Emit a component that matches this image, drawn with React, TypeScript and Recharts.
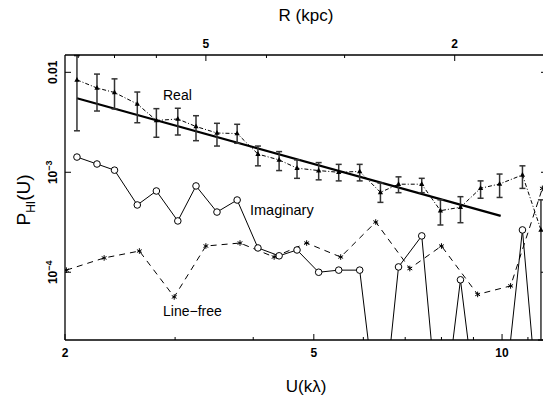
import React from "react";
import { LineChart, Line, XAxis, YAxis, ErrorBar } from "recharts";

// U (kλ) sampling of the real / imaginary parts
const realU = [2.09, 2.25, 2.4, 2.61, 2.8, 3.03, 3.24, 3.5, 3.77, 4.07, 4.4, 4.7, 5.09, 5.48, 5.92, 6.39, 6.83, 7.44, 7.97, 8.58, 9.24, 9.91, 10.78, 11.54];
const realP = [8.4e-3, 6.97e-3, 6.28e-3, 4.82e-3, 3.3e-3, 3.41e-3, 2.87e-3, 2.47e-3, 2.44e-3, 1.52e-3, 1.33e-3, 1.1e-3, 1.04e-3, 1.0e-3, 1.02e-3, 6.3e-4, 7.6e-4, 7.6e-4, 4.13e-4, 4.47e-4, 6.92e-4, 7.64e-4, 9.4e-4, 2.65e-4];
const realHi = [1.47e-2, 9.6e-3, 8.6e-3, 6.35e-3, 4.33e-3, 4.37e-3, 3.68e-3, 3.09e-3, 3.02e-3, 1.83e-3, 1.61e-3, 1.33e-3, 1.25e-3, 1.2e-3, 1.2e-3, 7.8e-4, 9.0e-4, 8.7e-4, 5.3e-4, 5.7e-4, 8.2e-4, 9.6e-4, 1.16e-3, 5.3e-4];
const realLo = [2.6e-3, 4.1e-3, 4.3e-3, 3.13e-3, 2.24e-3, 2.36e-3, 2.07e-3, 1.83e-3, 1.95e-3, 1.16e-3, 1.04e-3, 8.7e-4, 8.4e-4, 8.2e-4, 8.2e-4, 5.0e-4, 6.25e-4, 6.25e-4, 2.97e-4, 3.13e-4, 5.5e-4, 5.6e-4, 6.9e-4, 2.1e-5];

// imaginary part, 2e-6 = point dropped below the axis
const imagP = [1.42e-3, 1.21e-3, 1.05e-3, 4.71e-4, 6.5e-4, 3.26e-4, 7.3e-4, 4.0e-4, 5.28e-4, 1.75e-4, 1.46e-4, 1.67e-4, 1.0e-4, 1.05e-4, 1.05e-4, 2e-6, 1.13e-4, 2.31e-4, 2e-6, 8.4e-5, 2e-6, 2e-6, 2.65e-4, 2e-6];

// line-free channels
const freeU = [2.01, 2.31, 2.63, 2.99, 3.36, 3.81, 4.32, 4.87, 5.52, 6.28, 7.12, 8.0, 9.14, 10.32, 11.6];
const freeP = [1.05e-4, 1.39e-4, 1.63e-4, 5.66e-5, 1.83e-4, 1.96e-4, 1.42e-4, 1.96e-4, 1.42e-4, 3.18e-4, 1.09e-4, 1.83e-4, 6.0e-5, 7.3e-5, 6.9e-4];

// power-law fit
const fitU = [2.09, 9.95];
const fitP = [5.5e-3, 3.66e-4];

const uTicks = [2, 3, 4, 5, 6, 7, 8, 9, 10, 11];
const uLabeled = [2, 5, 10];
const pTicks = [1e-2, 1e-3, 1e-4];
const rTicks = [8, 7, 6, 5, 4, 3, 2];
const rLabeled = [5, 2];
const R_PER_U = 16.8; // R(kpc) = 16.8 / U

const U_DOMAIN = [2, 11.8];
const P_DOMAIN = [2.1e-5, 0.0149];

const realData = realU.map((u, i) => ({
  u,
  p: realP[i],
  err: [realP[i] - realLo[i], realHi[i] - realP[i]],
}));
const imagData = realU.map((u, i) => ({ u, p: imagP[i] }));
const freeData = freeU.map((u, i) => ({ u, p: freeP[i] }));
const fitData = fitU.map((u, i) => ({ u, p: fitP[i] }));

const FONT = "'Liberation Sans', Arial, sans-serif";

const inRange = (p: any) => p && p.payload && p.payload.p >= P_DOMAIN[0] && p.payload.p <= P_DOMAIN[1];

const TriDot = (props: any) => {
  const { cx, cy, index } = props;
  if (!inRange(props)) return <g key={`t${index}`} />;
  return <path key={`t${index}`} d={`M${cx},${cy - 3} L${cx + 2.6},${cy + 1.8} L${cx - 2.6},${cy + 1.8} Z`} fill="#000" />;
};

const CircleDot = (props: any) => {
  const { cx, cy, index } = props;
  if (!inRange(props)) return <g key={`c${index}`} />;
  return <circle key={`c${index}`} cx={cx} cy={cy} r={3.3} fill="#fff" stroke="#000" strokeWidth={1} />;
};

const StarDot = (props: any) => {
  const { cx, cy, index } = props;
  if (!inRange(props)) return <g key={`s${index}`} />;
  const r = 2.8;
  const a = r * Math.cos(Math.PI / 6);
  const b = r * Math.sin(Math.PI / 6);
  return (
    <g key={`s${index}`} stroke="#000" strokeWidth={1}>
      <line x1={cx} y1={cy - r} x2={cx} y2={cy + r} />
      <line x1={cx - a} y1={cy - b} x2={cx + a} y2={cy + b} />
      <line x1={cx - a} y1={cy + b} x2={cx + a} y2={cy - b} />
    </g>
  );
};

const BottomTick = ({ x, y, payload }: any) => {
  const major = uLabeled.includes(payload.value);
  return (
    <g>
      <line x1={x} x2={x} y1={y} y2={y - (major ? 6 : 3)} stroke="#000" />
      {major && (
        <text x={x} y={y + 17} textAnchor="middle" fontFamily={FONT} fontWeight="bold" fontSize={12} fill="#000">
          {payload.value}
        </text>
      )}
    </g>
  );
};

const TopTick = ({ x, y, payload }: any) => {
  const r = Math.round(R_PER_U / payload.value);
  const major = rLabeled.includes(r);
  return (
    <g>
      <line x1={x} x2={x} y1={y} y2={y + (major ? 6 : 3)} stroke="#000" />
      {major && (
        <text x={x} y={y - 7} textAnchor="middle" fontFamily={FONT} fontWeight="bold" fontSize={12} fill="#000">
          {r}
        </text>
      )}
    </g>
  );
};

const LeftTick = ({ x, y, payload }: any) => {
  const v = payload.value;
  const exp = Math.round(Math.log10(v));
  const tx = x - 8;
  return (
    <g>
      <line x1={x} x2={x + 6} y1={y} y2={y} stroke="#000" />
      <text transform={`translate(${tx},${y}) rotate(-90)`} textAnchor="middle" fontFamily={FONT} fontWeight="bold" fontSize={12} fill="#000">
        {exp === -2 ? (
          "0.01"
        ) : (
          <>
            10
            <tspan dy={-5} fontSize={9}>
              {`\u2212${-exp}`}
            </tspan>
          </>
        )}
      </text>
    </g>
  );
};

const RightTick = ({ x, y }: any) => <line x1={x} x2={x - 6} y1={y} y2={y} stroke="#000" />;

export default function App() {
  return (
    <div style={{ position: "absolute", left: 0, top: 0, width: 543, height: 404, overflow: "hidden", background: "#fff" }}>
      <LineChart width={560} height={404} margin={{ top: 0, right: 0, bottom: 0, left: 0 }}>
        <XAxis
          xAxisId="u"
          dataKey="u"
          type="number"
          scale="log"
          domain={U_DOMAIN}
          allowDataOverflow
          ticks={uTicks}
          interval={0}
          tick={<BottomTick />}
          tickSize={0}
          tickMargin={0}
          height={64}
          axisLine={{ stroke: "#000", strokeWidth: 1.3 }}
        />
        <XAxis
          xAxisId="r"
          dataKey="u"
          type="number"
          orientation="top"
          scale="log"
          domain={U_DOMAIN}
          allowDataOverflow
          ticks={rTicks.map((r) => R_PER_U / r)}
          interval={0}
          tick={<TopTick />}
          tickSize={0}
          tickMargin={0}
          height={55}
          axisLine={{ stroke: "#000", strokeWidth: 1.3 }}
        />
        <YAxis
          yAxisId="p"
          type="number"
          scale="log"
          domain={P_DOMAIN}
          allowDataOverflow
          ticks={pTicks}
          interval={0}
          tick={<LeftTick />}
          tickSize={0}
          tickMargin={0}
          width={65}
          axisLine={{ stroke: "#000", strokeWidth: 1.3 }}
        />
        <YAxis
          yAxisId="pr"
          orientation="right"
          type="number"
          scale="log"
          domain={P_DOMAIN}
          allowDataOverflow
          ticks={pTicks}
          interval={0}
          tick={<RightTick />}
          tickSize={0}
          tickMargin={0}
          width={13}
          axisLine={{ stroke: "#000", strokeWidth: 1.3 }}
        />
        <Line
          xAxisId="r"
          yAxisId="p"
          data={fitData}
          dataKey="p"
          type="linear"
          stroke="#000"
          strokeWidth={2.2}
          dot={false}
          activeDot={false}
          isAnimationActive={false}
        />
        <Line
          xAxisId="u"
          yAxisId="p"
          data={realData}
          dataKey="p"
          type="linear"
          stroke="#000"
          strokeWidth={1}
          strokeDasharray="4 2 1 2"
          dot={TriDot}
          activeDot={false}
          isAnimationActive={false}
        >
          <ErrorBar dataKey="err" width={3} stroke="#333" strokeWidth={1.5} direction="y" />
        </Line>
        <Line
          xAxisId="u"
          yAxisId="p"
          data={imagData}
          dataKey="p"
          type="linear"
          stroke="#000"
          strokeWidth={1}
          dot={CircleDot}
          activeDot={false}
          isAnimationActive={false}
        />
        <Line
          xAxisId="u"
          yAxisId="pr"
          data={freeData}
          dataKey="p"
          type="linear"
          stroke="#000"
          strokeWidth={1}
          strokeDasharray="6 5"
          dot={StarDot}
          activeDot={false}
          isAnimationActive={false}
        />
      </LineChart>
      <svg width={543} height={404} style={{ position: "absolute", left: 0, top: 0, pointerEvents: "none" }}>
        <g fontFamily={FONT} fill="#000">
          <text x={306} y={21} textAnchor="middle" fontSize={17}>R (kpc)</text>
          <text x={306} y={392} textAnchor="middle" fontSize={17}>U(kλ)</text>
          <text transform="translate(30,200) rotate(-90)" textAnchor="middle" fontSize={19}>
            P<tspan fontSize={12} dy={5}>HI</tspan>
            <tspan dy={-5}>(U)</tspan>
          </text>
          <text x={163} y={100} fontSize={14}>Real</text>
          <text x={250} y={215} fontSize={14.5}>Imaginary</text>
          <text x={163} y={316} fontSize={14}>Line−free</text>
        </g>
      </svg>
    </div>
  );
}
